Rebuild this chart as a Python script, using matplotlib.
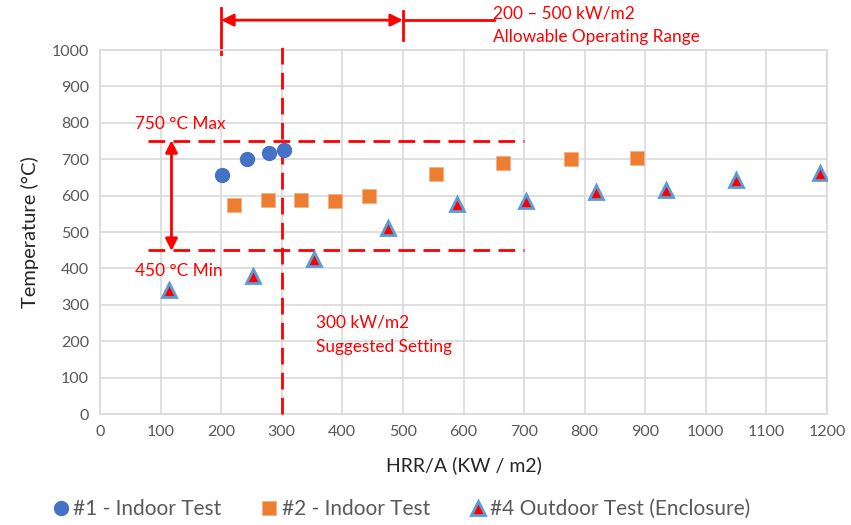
import matplotlib
matplotlib.use("Agg")
import matplotlib.pyplot as plt

plt.rcParams['font.family'] = ['Lato', 'DejaVu Sans']

s1_x = [201, 243, 279, 304]
s1_y = [657, 701, 717, 725]
s2_x = [221, 277, 332, 388, 444, 554, 665, 777, 886]
s2_y = [574, 588, 589, 584, 600, 659, 690, 701, 703]
s4_x = [114, 252, 353, 475, 589, 703, 818, 934, 1049, 1188]
s4_y = [340, 380, 425, 512, 576, 584, 609, 615, 643, 662]

labels = ['#1 - Indoor Test', '#2 - Indoor Test', '#4 Outdoor Test (Enclosure)']
xticks = list(range(0, 1201, 100))
yticks = list(range(0, 1001, 100))

RED = '#FF0000'
GRID = '#D9D9D9'
TXT = '#595959'

fig = plt.figure(figsize=(8.51, 5.25), dpi=100)
ax = fig.add_axes([100/851, 1-414/525, 727/851, 364/525])
ax.set_xlim(0, 1200)
ax.set_ylim(0, 1000)
ax.set_xticks(xticks)
ax.set_yticks(yticks)
ax.grid(True, color=GRID, lw=1.2)
ax.set_axisbelow(True)
for s in ax.spines.values():
    s.set_color(GRID)
    s.set_linewidth(1.2)
ax.tick_params(length=0, colors=TXT, labelsize=11.5, pad=8)

ax.set_xlabel('HRR/A (KW / m2)', fontsize=14, color='#262626', labelpad=12)
ax.set_ylabel('Temperature (°C)', fontsize=14.5, color='#262626', labelpad=9)

h1, = ax.plot(s1_x, s1_y, 'o', color='#4472C4', ms=10, mec='#4472C4', zorder=5, label=labels[0])
h2, = ax.plot(s2_x, s2_y, 's', color='#ED7D31', ms=10, mec='#F4B183', mew=0.6, zorder=5, label=labels[1])
h4, = ax.plot(s4_x, s4_y, '^', color='#FF0000', ms=10, mec='#5B9BD5', mew=2, zorder=5, label=labels[2])

dash = (0, (6, 3))
# horizontal limit lines
ax.plot([80, 700], [750, 750], color=RED, lw=2, ls=dash, zorder=3)
ax.plot([80, 700], [450, 450], color=RED, lw=2, ls=dash, zorder=3)
# vertical suggested setting
ax.plot([300, 300], [0, 1015], color=RED, lw=2, ls=dash, zorder=3, clip_on=False)

# vertical double arrow
ax.annotate('', xy=(118, 448), xytext=(118, 752),
            arrowprops=dict(arrowstyle='<|-|>', color=RED, lw=2, mutation_scale=18,
                            shrinkA=0, shrinkB=0))
# top horizontal double arrow
ax.annotate('', xy=(200, 1082), xytext=(500, 1082), annotation_clip=False,
            arrowprops=dict(arrowstyle='<|-|>', color=RED, lw=2, mutation_scale=18,
                            shrinkA=0, shrinkB=0))
ax.plot([200, 200], [988, 1115], color=RED, lw=2, clip_on=False)
ax.plot([500, 500], [1028, 1106], color=RED, lw=2, clip_on=False)
ax.plot([500, 650], [1082, 1082], color=RED, lw=2, clip_on=False)

ax.text(648, 1100, '200 – 500 kW/m2', color=RED, fontsize=12.4, va='center', ha='left', clip_on=False)
ax.text(648, 1037, 'Allowable Operating Range', color=RED, fontsize=12.4, va='center', ha='left', clip_on=False)
ax.text(57, 797, '750 °C Max', color=RED, fontsize=12.4, va='center', ha='left')
ax.text(57, 393, '450 °C Min', color=RED, fontsize=12.4, va='center', ha='left')
ax.text(357, 250, '300 kW/m2', color=RED, fontsize=12.4, va='center', ha='left')
ax.text(357, 184, 'Suggested Setting', color=RED, fontsize=12.4, va='center', ha='left')

leg = fig.legend(handles=[h1, h2, h4], labels=labels, loc='center', bbox_to_anchor=(0.473, 1-509/525),
                 ncol=3, frameon=False, fontsize=15, handlelength=0.6, handletextpad=0.3,
                 columnspacing=2.0, labelcolor=TXT)

fig.savefig('out.png', dpi=100)
